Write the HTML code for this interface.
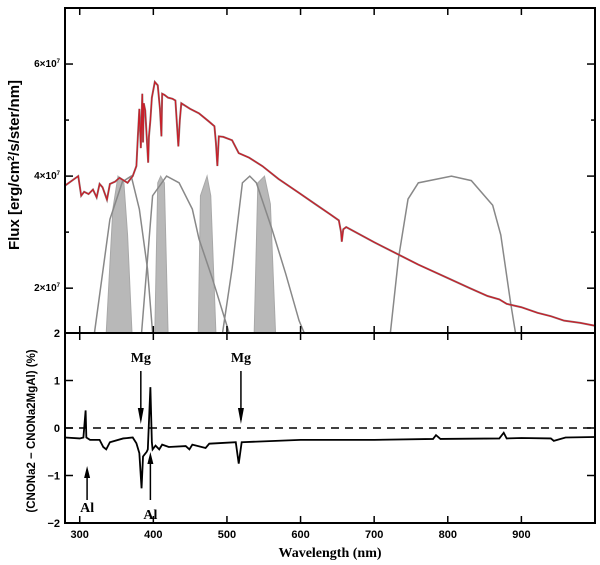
<!DOCTYPE html>
<html><head><meta charset="utf-8">
<style>
html,body{margin:0;padding:0;background:#fff;}
svg{display:block;}
.tk{font-family:"Liberation Sans",sans-serif;font-weight:bold;font-size:11px;fill:#000;}
.ttl{font-family:"Liberation Serif",serif;font-weight:bold;fill:#000;}
.ttls{font-family:"Liberation Sans",sans-serif;font-weight:bold;fill:#000;}
</style></head>
<body>
<svg id="chart" width="600" height="565" viewBox="0 0 600 565" xmlns="http://www.w3.org/2000/svg">
<g id="topPanel"></g>
<g id="botPanel"></g>
<g id="axesG"></g>
<text class="ttl" x="330" y="557" text-anchor="middle" font-size="14">Wavelength (nm)</text>
<text class="ttls" transform="translate(19,165) rotate(-90)" text-anchor="middle" font-size="15">Flux [erg/cm<tspan dy="-5" font-size="9">2</tspan><tspan dy="5">/s/ster/nm]</tspan></text>
<text class="ttls" transform="translate(35,431) rotate(-90)" text-anchor="middle" font-size="11.5">(CNONa2 − CNONa2MgAl) (%)</text>
</svg>
<script>
// ---- data ----
const specWave=[280,298,302,306,312,318,323,327,331,337,341,348,354,360,365,369,372,377,379,381,383,385,386,387,389,391,393,394,396,398,402,406,409,411,412,415,420,426,430,434,436,438,450,462,475,483,485,487,489,495,507,516,530,548,570,598,620,640,652,655,656,658,662,700,733,760,800,830,854,870,880,900,922,940,958,980,1000];
const specFlux=[3.83,4.0,3.65,3.72,3.68,3.76,3.62,3.86,3.8,3.58,3.86,3.9,3.97,3.92,3.88,3.95,4.0,4.18,4.71,5.2,4.5,5.47,4.6,5.3,5.17,4.7,4.24,4.7,5.0,5.4,5.68,5.62,5.2,4.71,5.47,5.45,5.4,5.38,5.35,4.53,5.0,5.3,5.2,5.12,4.98,4.89,4.6,4.18,4.71,4.7,4.64,4.41,4.33,4.18,3.95,3.7,3.5,3.32,3.21,3.0,2.83,3.05,3.09,2.82,2.6,2.42,2.18,2.0,1.86,1.8,1.72,1.66,1.56,1.5,1.42,1.38,1.33];
const broadWave=[[320,341,358,370,381,392,399],[384,399,418,435,453,462,480,503],[494,507,521,531,540,561,580,598,605],[722,733,746,760,805,832,861,872,885,892]];
const broadResp=[[1.2,3.23,3.9,4.0,3.41,2.35,1.2],[1.2,3.65,4.0,3.88,3.41,2.88,2.18,1.2],[1.2,2.35,3.88,4.0,3.88,3.06,2.25,1.42,1.2],[1.2,2.53,3.59,3.88,4.0,3.92,3.48,2.95,1.77,1.2]];
const narrowWave=[[336,345,352,360,365,371],[402,406,410,415,420],[461,464,473,478,485],[537,542,551,559,566]];
const narrowResp=[[1.2,3.41,4.0,3.88,2.95,1.2],[1.2,3.88,4.0,3.88,1.2],[1.2,3.65,4.0,3.65,1.2],[1.2,3.88,4.0,3.5,1.2]];
const resWave=[280,300,305,308,309,314,327,332,336,341,359,372,377,381,384,386,391,392.5,396,398,399,403,408,412,421,444,449,453,471,476,512,516,520,600,700,780,784,790,870,876,880,900,940,944,960,1000];
const resVal=[-0.2,-0.22,-0.2,0.37,-0.2,-0.25,-0.25,-0.4,-0.45,-0.3,-0.22,-0.2,-0.32,-0.53,-1.27,-0.6,-0.5,-0.45,0.86,-0.3,-0.45,-0.37,-0.45,-0.35,-0.4,-0.38,-0.45,-0.35,-0.42,-0.33,-0.3,-0.75,-0.3,-0.25,-0.25,-0.23,-0.15,-0.23,-0.22,-0.1,-0.22,-0.21,-0.22,-0.27,-0.2,-0.19];
const xTicks=[300,400,500,600,700,800,900];
const topTicksMajor=[2,4,6];
const topTicksMinor=[3,5];
const botTicks=[-2,-1,0,1];
const annoLabels=["Mg","Mg","Al","Al"];
const annoWave=[383,519,310,396];
// ---- scales ----
const X0=65,X1=595,W0=280,W1=1000;
const sx=w=>X0+(w-W0)*(X1-X0)/(W1-W0);
const TT=8,TB=333,F0=1.2,F1=7.0;
const syT=f=>TB-(f-F0)*(TB-TT)/(F1-F0);
const BT=333,BB=523;
const syB=v=>BB-(v+2)*(BB-BT)/4;
const NS="http://www.w3.org/2000/svg";
function mk(tag,parent,attrs){const e=document.createElementNS(NS,tag);for(const k in attrs)e.setAttribute(k,attrs[k]);parent.appendChild(e);return e;}
const topG=document.getElementById('topPanel'),botG=document.getElementById('botPanel'),axG=document.getElementById('axesG');
const clip=mk('clipPath',topG,{id:'ct'});mk('rect',clip,{x:X0,y:TT,width:X1-X0,height:TB-TT});
const tg=mk('g',topG,{'clip-path':'url(#ct)'});
narrowWave.forEach((ws,i)=>{
  const pts=ws.map((w,j)=>sx(w)+','+syT(narrowResp[i][j])).join(' ');
  const p=mk('polygon',tg,{points:pts,fill:'#b8b8b8',stroke:'#a8a8a8','stroke-width':1});
  
  
});
broadWave.forEach((ws,i)=>{
  const pts=ws.map((w,j)=>sx(w)+','+syT(broadResp[i][j])).join(' ');
  const p=mk('polyline',tg,{points:pts,fill:'none',stroke:'#888','stroke-width':1.5});
  
  
});
const sp=specWave.map((w,j)=>sx(w)+','+syT(specFlux[j])).join(' ');
const s1=mk('polyline',tg,{points:sp,fill:'none',stroke:'#888','stroke-width':2});


const s2=mk('polyline',tg,{points:sp,fill:'none',stroke:'#c8202a','stroke-width':1.3});


// bottom
const zl=mk('line',botG,{x1:X0,x2:X1,y1:syB(0),y2:syB(0),stroke:'#000','stroke-width':1.5,'stroke-dasharray':'8,6'});


const rp=mk('polyline',botG,{points:resWave.map((w,j)=>sx(w)+','+syB(resVal[j])).join(' '),fill:'none',stroke:'#000','stroke-width':1.8});


annoLabels.forEach((l,i)=>{
  const x=sx(annoWave[i]);const down=l==="Mg";
  const g=mk('g',botG,{});
  
  
  const ty=down?362:(i===2?512:519);
  const t=mk('text',g,{x:x,y:ty,'text-anchor':'middle','font-size':14,class:'ttl'});t.textContent=l;
  if(down){mk('line',g,{x1:x,x2:x,y1:371,y2:420,stroke:'#000','stroke-width':1.5});
    mk('polygon',g,{points:`${x-3},408 ${x+3},408 ${x},424`,fill:'#000'});}
  else{const y1=500,y2=i===2?466:452;
    mk('line',g,{x1:x,x2:x,y1:y1,y2:y2+4,stroke:'#000','stroke-width':1.5});
    mk('polygon',g,{points:`${x-3},${y2+12} ${x+3},${y2+12} ${x},${y2}`,fill:'#000'});}
});
// axes frames
mk('rect',axG,{x:X0,y:TT,width:X1-X0,height:BB-TT,fill:'none',stroke:'#000','stroke-width':2});
mk('line',axG,{x1:X0,x2:X1,y1:TB,y2:TB,stroke:'#000','stroke-width':2});
xTicks.forEach(w=>{const x=sx(w);
  mk('line',axG,{x1:x,x2:x,y1:TT,y2:TT+7,stroke:'#000','stroke-width':1.5});
  mk('line',axG,{x1:x,x2:x,y1:TB-7,y2:TB+7,stroke:'#000','stroke-width':1.5});
  mk('line',axG,{x1:x,x2:x,y1:BB,y2:BB-7,stroke:'#000','stroke-width':1.5});
  const t=mk('text',axG,{x:x,y:538,'text-anchor':'middle',class:'tk'});t.textContent=w;
  
  
});
topTicksMajor.forEach(f=>{const y=syT(f);
  mk('line',axG,{x1:X0,x2:X0+8,y1:y,y2:y,stroke:'#000','stroke-width':1.5});
  mk('line',axG,{x1:X1,x2:X1-8,y1:y,y2:y,stroke:'#000','stroke-width':1.5});
  const t=mk('text',axG,{x:60,y:y+3,'text-anchor':'end',class:'tk'});
  t.style.fontSize='10px';
  t.appendChild(document.createTextNode(f+'×10'));
  const sup=mk('tspan',t,{dy:-4,'font-size':6});sup.textContent='7';
  
  
});
topTicksMinor.forEach(f=>{const y=syT(f);
  mk('line',axG,{x1:X0,x2:X0+4,y1:y,y2:y,stroke:'#000','stroke-width':1.5});
  mk('line',axG,{x1:X1,x2:X1-4,y1:y,y2:y,stroke:'#000','stroke-width':1.5});
});
[2].concat(botTicks).forEach(v=>{const y=syB(v);
  if(v<2){mk('line',axG,{x1:X0,x2:X0+8,y1:y,y2:y,stroke:'#000','stroke-width':1.5});
  mk('line',axG,{x1:X1,x2:X1-8,y1:y,y2:y,stroke:'#000','stroke-width':1.5});}
  const t=mk('text',axG,{x:60,y:y+4,'text-anchor':'end',class:'tk'});t.textContent=v<0?'−'+(-v):v;
  
  
});
</script>
</body></html>
